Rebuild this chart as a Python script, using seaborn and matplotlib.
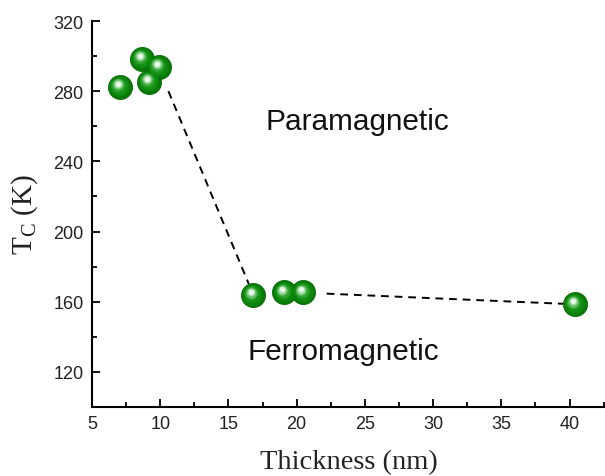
import matplotlib
matplotlib.use("Agg")
import matplotlib.pyplot as plt
import matplotlib.transforms as mtransforms
import numpy as np
import pandas as pd
import seaborn as sns

# data
thickness = [7.05, 8.67, 9.18, 9.9, 16.8, 19.1, 20.5, 40.4]
tc = [282.5, 298.4, 285.3, 293.9, 163.7, 165.3, 165.3, 158.6]
guide1_x = [10.6, 16.5]
guide1_y = [280.0, 170.0]
guide2_x = [22.2, 39.6]
guide2_y = [164.6, 158.8]
xticks = [5, 10, 15, 20, 25, 30, 35, 40]
yticks = [120, 160, 200, 240, 280, 320]

df = pd.DataFrame({"t": thickness, "tc": tc})

sns.set_style("ticks")
plt.rcParams["font.family"] = ["Liberation Sans", "DejaVu Sans"]
plt.rcParams["mathtext.fontset"] = "custom"
plt.rcParams["mathtext.rm"] = "Liberation Serif"

fig = plt.figure(figsize=(6.05, 4.77), dpi=100)
ax = fig.add_axes([92 / 605, 1 - 408 / 477, 1 - 92 / 605, (408 - 22) / 477])

ax.plot(guide1_x, guide1_y, ls=(0, (4, 3)), color="black", lw=1.4, zorder=2)
ax.plot(guide2_x, guide2_y, ls=(0, (4, 3)), color="black", lw=1.4, zorder=2)

# sphere-like markers: base + shaded layers offset towards upper-left
sns.scatterplot(data=df, x="t", y="tc", s=300, color="#067806", edgecolor="#086a08",
                linewidth=0.6, ax=ax, zorder=3, legend=False)
layers = [
    (220, "#0c850c", 0.8, 0.5),
    (150, "#149014", 1.4, 1.0),
    (95, "#2ea42e", 1.8, 1.8),
    (58, "#66bf66", 2.0, 2.4),
    (32, "#a8dca8", 2.2, 2.8),
    (14, "#e8f8e8", 2.3, 3.0),
]
for s, c, dx, dy in layers:
    coll = ax.scatter(df["t"], df["tc"], s=s, color=c, linewidths=0, zorder=4)
    coll.set_offset_transform(ax.transData + mtransforms.ScaledTranslation(-dx / 100, dy / 100, fig.dpi_scale_trans))

ax.set_xlim(5, 42.6)
ax.set_ylim(100, 320)
ax.set_xticks(xticks)
ax.set_yticks(yticks)
ax.set_xticks(np.arange(7.5, 42.6, 5), minor=True)
ax.set_yticks(np.arange(100, 321, 40), minor=True)
ax.tick_params(which="major", direction="in", length=6, width=1.3, labelsize=13, colors="black", pad=6)
ax.tick_params(which="minor", direction="in", length=3.5, width=1.3, colors="black")
for lbl in ax.get_xticklabels() + ax.get_yticklabels():
    lbl.set_color("#222222")
for side in ["top", "right"]:
    ax.spines[side].set_visible(False)
for side in ["left", "bottom"]:
    ax.spines[side].set_linewidth(1.5)
    ax.spines[side].set_color("black")

ax.set_xlabel("Thickness (nm)", family="Liberation Serif", fontsize=20.5, labelpad=12, color="#222222")
ax.set_ylabel(r"$\mathrm{T_C}$ (K)", family="Liberation Serif", fontsize=21, labelpad=10, color="#222222")

ax.text(24.45, 258.6, "Paramagnetic", fontsize=21.4, ha="center", va="baseline", color="#111111")
ax.text(23.4, 127.2, "Ferromagnetic", fontsize=21.4, ha="center", va="baseline", color="#111111")

fig.savefig("out.png", dpi=100)
